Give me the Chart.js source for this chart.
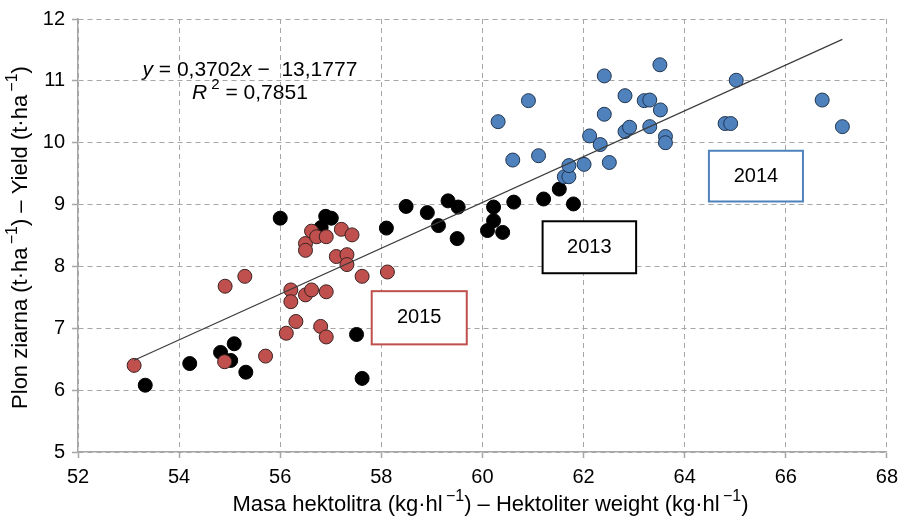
<!DOCTYPE html>
<html>
<head>
<meta charset="utf-8">
<script src="https://cdn.jsdelivr.net/npm/chart.js@4"></script>
<style>
  html, body { margin: 0; padding: 0; background: #fff; }
  #wrap { width: 905px; height: 521px; }
</style>
</head>
<body>
<div id="wrap"><canvas id="grafica"></canvas></div>
<script>
// Datos: masa hektolitra (x) y plon ziarna (y)
const rok2013 = [
  [53.33, 6.08], [54.21, 6.43], [54.82, 6.61], [55.02, 6.48], [55.09, 6.75], [55.32, 6.29],
  [56.00, 8.78], [56.81, 8.63], [56.90, 8.81], [57.01, 8.78], [57.51, 6.90], [57.62, 6.19],
  [58.10, 8.62], [58.49, 8.97], [58.91, 8.87], [59.13, 8.66], [59.32, 9.06], [59.50, 8.45],
  [59.52, 8.96], [60.10, 8.58], [60.22, 8.74], [60.22, 8.96], [60.40, 8.55], [60.62, 9.04],
  [61.21, 9.09], [61.52, 9.25], [61.80, 9.01]
];
const rok2014 = [
  [60.31, 10.34], [60.60, 9.72], [60.91, 10.68], [61.11, 9.79], [61.62, 9.45], [61.71, 9.45],
  [61.71, 9.63], [62.01, 9.65], [62.12, 10.11], [62.33, 9.97], [62.41, 10.46], [62.41, 11.08],
  [62.51, 9.68], [62.82, 10.76], [62.82, 10.18], [62.91, 10.25], [63.20, 10.68], [63.31, 10.69],
  [63.31, 10.26], [63.51, 11.26], [63.52, 10.53], [63.62, 10.10], [63.62, 10.00], [64.80, 10.31],
  [64.91, 10.31], [65.02, 11.01], [66.72, 10.69], [67.12, 10.26]
];
const rok2015 = [
  [53.11, 6.40], [54.90, 6.46], [54.91, 7.68], [55.30, 7.84], [55.71, 6.55], [56.12, 6.92],
  [56.21, 7.62], [56.21, 7.43], [56.31, 7.11], [56.50, 8.37], [56.50, 8.26], [56.50, 7.54],
  [56.62, 8.57], [56.62, 7.62], [56.72, 8.48], [56.80, 7.03], [56.91, 8.48], [56.91, 7.59],
  [56.91, 6.86], [57.11, 8.16], [57.21, 8.60], [57.32, 8.19], [57.32, 8.03], [57.42, 8.51],
  [57.62, 7.84], [58.12, 7.91]
];
const slope = 0.3702;
const intercept = -13.1777;
const r2 = 0.7851;
const xTicks = [52, 54, 56, 58, 60, 62, 64, 66, 68];
const yTicks = [5, 6, 7, 8, 9, 10, 11, 12];

const toPts = arr => arr.map(p => ({x: p[0], y: p[1]}));
const allX = [...rok2013, ...rok2014, ...rok2015].map(p => p[0]);
const xMin = Math.min(...allX), xMax = Math.max(...allX);
const trend = [xMin, xMax].map(x => ({x: x, y: slope * x + intercept}));

const FONT = "'Liberation Sans', Arial, sans-serif";

// Etiquetas de los anios (en coordenadas de datos)
const boxes = [
  {text: '2015', x0: 57.81, x1: 59.69, y0: 6.74, y1: 7.60, color: '#C0504D'},
  {text: '2013', x0: 61.19, x1: 63.04, y0: 7.89, y1: 8.73, color: '#000000'},
  {text: '2014', x0: 64.48, x1: 66.34, y0: 9.05, y1: 9.87, color: '#4F81BD'}
];
const eqPos = {x: 55.40, y1: 11.17, y2: 10.80};

const rg = '21px ' + FONT, it = 'italic 21px ' + FONT, sup = '15px ' + FONT;
const tf = '22px ' + FONT, tsup = '16px ' + FONT;
const xTitle = [
  {t: 'Masa hektolitra (kg\u00b7hl', font: tf}, {t: '\u2009\u22121', font: tsup, dy: -8},
  {t: ') \u2013 Hektoliter weight (kg\u00b7hl', font: tf}, {t: '\u2009\u22121', font: tsup, dy: -8},
  {t: ')', font: tf}
];
const yTitle = [
  {t: 'Plon ziarna (t\u00b7ha', font: tf}, {t: '\u2009\u22121', font: tsup, dy: -8},
  {t: ') \u2013 Yield (t\u00b7ha', font: tf}, {t: '\u2009\u22121', font: tsup, dy: -8},
  {t: ')', font: tf}
];

function drawRuns(ctx, runs, cx, cy) {
  let w = 0;
  runs.forEach(r => { ctx.font = r.font; w += ctx.measureText(r.t).width; });
  let x = cx - w / 2;
  runs.forEach(r => {
    ctx.font = r.font;
    ctx.fillText(r.t, x, cy + (r.dy || 0));
    x += ctx.measureText(r.t).width;
  });
}

const annotations = {
  id: 'annotations',
  afterDatasetsDraw(chart) {
    const ctx = chart.ctx, xs = chart.scales.x, ys = chart.scales.y, area = chart.chartArea;
    ctx.save();
    boxes.forEach(b => {
      const l = xs.getPixelForValue(b.x0), r = xs.getPixelForValue(b.x1);
      const t = ys.getPixelForValue(b.y1), btm = ys.getPixelForValue(b.y0);
      ctx.fillStyle = '#fff';
      ctx.fillRect(l, t, r - l, btm - t);
      ctx.strokeStyle = b.color;
      ctx.lineWidth = 2;
      ctx.strokeRect(l, t, r - l, btm - t);
      ctx.fillStyle = '#000';
      ctx.font = '20px ' + FONT;
      ctx.textAlign = 'center';
      ctx.textBaseline = 'middle';
      ctx.fillText(b.text, (l + r) / 2, (t + btm) / 2);
    });
    ctx.textAlign = 'left';
    ctx.textBaseline = 'middle';
    ctx.fillStyle = '#000';
    const cx = xs.getPixelForValue(eqPos.x);
    const fmt = v => String(Math.abs(v)).replace('.', ',');
    drawRuns(ctx, [
      {t: 'y', font: it}, {t: ' = ' + fmt(slope), font: rg}, {t: 'x', font: it},
      {t: ' \u2212  ' + fmt(intercept), font: rg}
    ], cx, ys.getPixelForValue(eqPos.y1));
    drawRuns(ctx, [
      {t: 'R', font: it}, {t: ' 2', font: sup, dy: -8}, {t: ' = ' + fmt(r2), font: rg}
    ], cx, ys.getPixelForValue(eqPos.y2));

    // Titulos de los ejes con superindices
    drawRuns(ctx, xTitle, (area.left + area.right) / 2 + 8, 505);
    ctx.translate(21, (area.top + area.bottom) / 2 + 2);
    ctx.rotate(-Math.PI / 2);
    drawRuns(ctx, yTitle, 0, 0);
    ctx.restore();
  }
};

const gridOpts = {color: '#a6a6a6', lineWidth: 1, tickLength: 6, tickColor: '#a6a6a6', tickWidth: 1.5};
const borderOpts = {display: true, color: '#a6a6a6', width: 1.5, dash: [5, 4]};

new Chart(document.getElementById('grafica').getContext('2d'), {
  type: 'scatter',
  data: {
    datasets: [
      {label: 'trend', type: 'line', data: trend, borderColor: '#3c3c3c', borderWidth: 1.2,
       pointRadius: 0, fill: false, order: 0},
      {label: '2015', data: toPts(rok2015), backgroundColor: '#C0504D', borderColor: '#3a2222',
       borderWidth: 1, pointRadius: 7, order: 1},
      {label: '2014', data: toPts(rok2014), backgroundColor: '#4F81BD', borderColor: '#1f3550',
       borderWidth: 1, pointRadius: 7, order: 2},
      {label: '2013', data: toPts(rok2013), backgroundColor: '#000', borderColor: '#000',
       borderWidth: 1, pointRadius: 7, order: 3}
    ]
  },
  options: {
    responsive: true,
    maintainAspectRatio: false,
    animation: false,
    layout: {padding: {top: 18, right: 16, left: 0, bottom: 0}},
    plugins: {legend: {display: false}, tooltip: {enabled: false}},
    scales: {
      x: {
        type: 'linear', min: xTicks[0], max: xTicks[xTicks.length - 1],
        afterBuildTicks: s => { s.ticks = xTicks.map(v => ({value: v})); },
        afterFit: s => { s.height = 69; },
        grid: gridOpts, border: borderOpts,
        ticks: {color: '#000', padding: 7, font: {family: FONT, size: 20}}
      },
      y: {
        type: 'linear', min: yTicks[0], max: yTicks[yTicks.length - 1],
        afterBuildTicks: s => { s.ticks = yTicks.map(v => ({value: v})); },
        afterFit: s => { s.width = 78; },
        grid: gridOpts, border: borderOpts,
        ticks: {color: '#000', padding: 7, font: {family: FONT, size: 20}}
      }
    }
  },
  plugins: [annotations]
});
</script>
</body>
</html>
